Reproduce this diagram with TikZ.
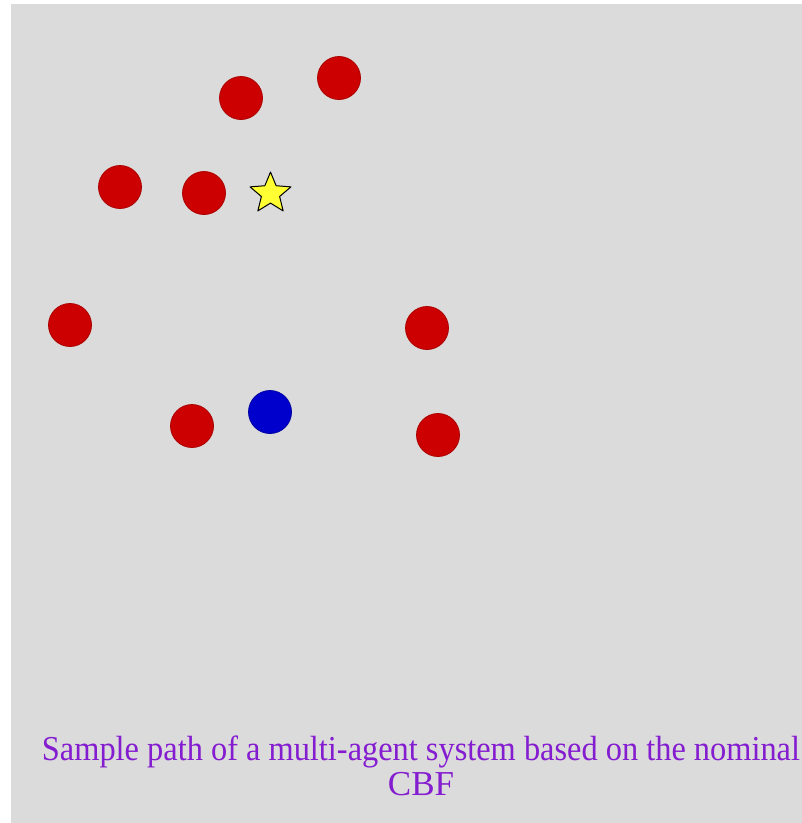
\documentclass[tikz,border=0pt]{standalone}
\usepackage{fontspec}
\setmainfont{Liberation Serif}
\usepackage{graphicx}
\usetikzlibrary{calc}
\definecolor{bg}{RGB}{220,219,219}
\definecolor{agentred}{RGB}{204,0,0}
\definecolor{agentedge}{RGB}{170,0,0}
\definecolor{egoblue}{RGB}{0,0,204}
\definecolor{goalyellow}{RGB}{255,255,51}
\definecolor{captionpurple}{RGB}{132,28,208}
\begin{document}
\begin{tikzpicture}[x=1pt,y=-1pt,
  agent/.style={circle,fill=agentred,draw=agentedge,line width=0.8pt,minimum size=43pt,inner sep=0pt},
  ego/.style={circle,fill=egoblue,draw=egoblue!80!black,line width=0.8pt,minimum size=43pt,inner sep=0pt},
  caption/.style={text=captionpurple,font=\fontsize{35}{40}\selectfont,inner sep=0pt,anchor=base}]
\useasboundingbox (0,0) rectangle (802,823);
\fill[white] (0,0) rectangle (802,823);
\fill[bg] (11,4) rectangle (802,823);
\node[agent] (a1) at (241,98) {};
\node[agent] (a2) at (339,78) {};
\node[agent] (a3) at (120,187) {};
\node[agent] (a4) at (204,193) {};
\node[agent] (a5) at (70,325) {};
\node[agent] (a6) at (427,328) {};
\node[agent] (a7) at (192,426) {};
\node[agent] (a8) at (438,435) {};
\node[ego] (b) at (270,412) {};
\coordinate (g) at (270.5,193.5);
\draw[fill=goalyellow,draw=black,line width=1pt,line join=round]
  ($(g)+(-90:21.5)$)
  \foreach \k in {0,...,4} { -- ($(g)+({-54+72*\k}:9.6)$) -- ($(g)+({-18+72*\k}:21.5)$) } -- cycle;
\node[caption] (t1) at (421,760) {\resizebox{758pt}{\height}{Sample path of a multi-agent system based on the nominal}};
\node[caption] (t2) at (421,795) {CBF};
\end{tikzpicture}
\end{document}
